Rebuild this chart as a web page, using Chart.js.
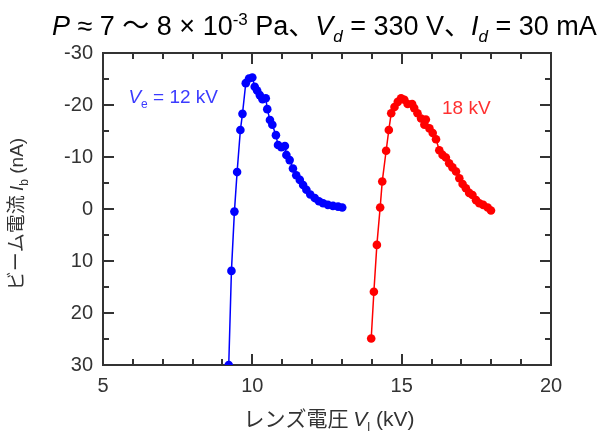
<!DOCTYPE html>
<html>
<head>
<meta charset="utf-8">
<script src="https://cdn.jsdelivr.net/npm/chart.js@4.4.1/dist/chart.umd.min.js"></script>
<style>
  html, body { margin: 0; padding: 0; background: #fff; }
</style>
</head>
<body>
<canvas id="canvas1" width="615" height="442"></canvas>
<script>
// Ve = 12 kV series
const lensV12 = [9.21, 9.30, 9.40, 9.49, 9.60, 9.67, 9.78, 9.89, 10.00, 10.08, 10.16, 10.25, 10.34, 10.45,
    10.50, 10.59, 10.67, 10.79, 10.86, 10.97, 11.09, 11.14, 11.25, 11.36, 11.47, 11.59, 11.70, 11.81,
    11.94, 12.09, 12.23, 12.37, 12.53, 12.70, 12.87, 13.01];
const beam12 = [30, 11.9, 0.5, -7.1, -15.2, -18.3, -24.2, -25.1, -25.3, -23.5, -22.8, -21.9, -21.1, -21.3,
    -19.2, -17.1, -16.2, -14.2, -12.3, -11.9, -12.1, -10.4, -9.4, -7.8, -6.5, -5.6, -4.6, -3.7,
    -2.8, -2.1, -1.5, -1.1, -0.8, -0.6, -0.45, -0.3];

// 18 kV series
const lensV18 = [13.98, 14.07, 14.17, 14.28, 14.35, 14.48, 14.57, 14.65, 14.76, 14.87, 14.98, 15.09, 15.20,
    15.35, 15.42, 15.53, 15.65, 15.76, 15.81, 15.93, 16.04, 16.15, 16.26, 16.37, 16.48, 16.59, 16.70,
    16.82, 16.93, 17.04, 17.15, 17.26, 17.37, 17.49, 17.60, 17.73, 17.88, 17.99];
const beam18 = [24.9, 15.9, 6.9, -0.3, -5.3, -11.2, -15.2, -18.4, -19.6, -20.6, -21.3, -21.0, -20.2,
    -20.2, -19.4, -18.4, -17.4, -16.2, -17.2, -15.5, -14.6, -13.4, -11.3, -10.4, -9.9, -8.8, -8.0,
    -7.2, -5.9, -4.8, -4.0, -3.1, -2.7, -1.7, -1.1, -0.8, -0.3, 0.3];

const xTickValues = [5, 10, 15, 20];
const yTickValues = [-30, -20, -10, 0, 10, 20, 30];

const AXIS = '#333333';
const LATIN = '"Liberation Sans", Arial, "Noto Sans CJK JP", sans-serif';
const JP = '"Noto Sans CJK JP", "Liberation Sans", sans-serif';

function toPoints(xs, ys) {
    return xs.map((v, i) => ({ x: v, y: ys[i] }));
}

// draws a row of text pieces (italic / sub / sup) starting at x
function drawPieces(ctx, pieces, x, y, size, family, align) {
    const fontOf = p => (p.i ? 'italic ' : '') + Math.round((p.sub || p.sup) ? size * 0.62 : size) + 'px ' + (p.f || family);
    let total = 0;
    pieces.forEach(p => { ctx.font = fontOf(p); total += ctx.measureText(p.t).width; });
    let cx = align === 'center' ? x - total / 2 : x;
    ctx.textAlign = 'left';
    ctx.textBaseline = 'alphabetic';
    pieces.forEach(p => {
        ctx.font = fontOf(p);
        let dy = 0;
        if (p.sub) dy = size * 0.25;
        if (p.sup) dy = -size * 0.38;
        ctx.fillText(p.t, cx, y + dy);
        cx += ctx.measureText(p.t).width;
    });
    return total;
}

const frameAndTicks = {
    id: 'frameAndTicks',
    beforeDatasetsDraw(chart) {
        const ctx = chart.ctx;
        const a = chart.chartArea;
        const xs = chart.scales.x, ys = chart.scales.y;
        ctx.save();
        ctx.strokeStyle = AXIS;
        ctx.lineWidth = 2;
        ctx.strokeRect(a.left, a.top, a.right - a.left, a.bottom - a.top);
        ctx.beginPath();
        for (let v = xs.min; v <= xs.max; v += 1) {
            const px = Math.round(xs.getPixelForValue(v));
            const len = v % 5 === 0 ? 11 : 6;
            ctx.moveTo(px, a.bottom); ctx.lineTo(px, a.bottom - len);
            ctx.moveTo(px, a.top); ctx.lineTo(px, a.top + len);
        }
        for (let v = ys.min; v <= ys.max; v += 5) {
            const py = Math.round(ys.getPixelForValue(v));
            const len = v % 10 === 0 ? 11 : 6;
            ctx.moveTo(a.left, py); ctx.lineTo(a.left + len, py);
            ctx.moveTo(a.right, py); ctx.lineTo(a.right - len, py);
        }
        ctx.stroke();
        ctx.restore();
    },
    afterDraw(chart) {
        const ctx = chart.ctx;
        const xs = chart.scales.x, ys = chart.scales.y;
        ctx.save();

        // heading
        ctx.fillStyle = '#000';
        const head = [
            { t: 'P', i: true }, { t: ' ≈ 7 〜 8 × 10' }, { t: '-3', sup: true }, { t: ' Pa、' },
            { t: 'V', i: true }, { t: 'd', i: true, sub: true }, { t: ' = 330 V、' },
            { t: 'I', i: true }, { t: 'd', i: true, sub: true }, { t: ' = 30 mA' }
        ];
        drawPieces(ctx, head, 52, 35, 27, LATIN, 'left');

        // x title
        ctx.fillStyle = AXIS;
        drawPieces(ctx, [
            { t: 'レンズ電圧 ', f: JP }, { t: 'V', i: true }, { t: 'l', sub: true }, { t: ' (kV)' }
        ], (xs.left + xs.right) / 2 + 2, 426, 21, LATIN, 'center');

        // y title
        ctx.translate(16, (ys.top + ys.bottom) / 2 + 5);
        ctx.rotate(-Math.PI / 2);
        drawPieces(ctx, [
            { t: 'ビーム電流 ', f: JP }, { t: 'I', i: true }, { t: 'b', sub: true }, { t: ' (nA)' }
        ], 0, 7, 19, LATIN, 'center');
        ctx.setTransform(1, 0, 0, 1, 0, 0);

        // series labels
        ctx.fillStyle = '#3b3bff';
        drawPieces(ctx, [
            { t: 'V', i: true }, { t: 'e', sub: true }, { t: ' = 12 kV' }
        ], xs.getPixelForValue(5.85), ys.getPixelForValue(-20.4), 19, LATIN, 'left');
        ctx.fillStyle = '#ff3030';
        drawPieces(ctx, [{ t: '18 kV' }], xs.getPixelForValue(16.35), ys.getPixelForValue(-18.3), 19, LATIN, 'left');
        ctx.restore();
    }
};

const data = {
    datasets: [{
        label: 'Ve = 12 kV',
        data: toPoints(lensV12, beam12),
        showLine: true,
        borderColor: '#0000ff',
        backgroundColor: '#0000ff',
        borderWidth: 1.5,
        pointRadius: 4.3,
        pointBorderWidth: 0
    }, {
        label: '18 kV',
        data: toPoints(lensV18, beam18),
        showLine: true,
        borderColor: '#ff0000',
        backgroundColor: '#ff0000',
        borderWidth: 1.5,
        pointRadius: 4.3,
        pointBorderWidth: 0
    }]
};

const config = {
    type: 'scatter',
    data: data,
    options: {
        responsive: false,
        animation: false,
        devicePixelRatio: 1,
        layout: { padding: { left: 0, top: 53, right: 64, bottom: 0 } },
        plugins: {
            legend: { display: false },
            tooltip: { enabled: false }
        },
        scales: {
            x: {
                type: 'linear',
                min: 5,
                max: 20,
                afterBuildTicks: s => { s.ticks = xTickValues.map(v => ({ value: v })); },
                afterFit: s => { s.height = 77; },
                grid: { display: false, drawTicks: false },
                border: { display: false },
                ticks: { color: AXIS, padding: 9, font: { family: LATIN, size: 20 } }
            },
            y: {
                type: 'linear',
                reverse: true,
                min: -30,
                max: 30,
                afterBuildTicks: s => { s.ticks = yTickValues.map(v => ({ value: v })); },
                afterFit: s => { s.width = 103; },
                grid: { display: false, drawTicks: false },
                border: { display: false },
                ticks: { color: AXIS, padding: 10, font: { family: LATIN, size: 20 } }
            }
        }
    },
    plugins: [frameAndTicks]
};

const chart = new Chart(document.getElementById('canvas1'), config);
</script>
</body>
</html>
